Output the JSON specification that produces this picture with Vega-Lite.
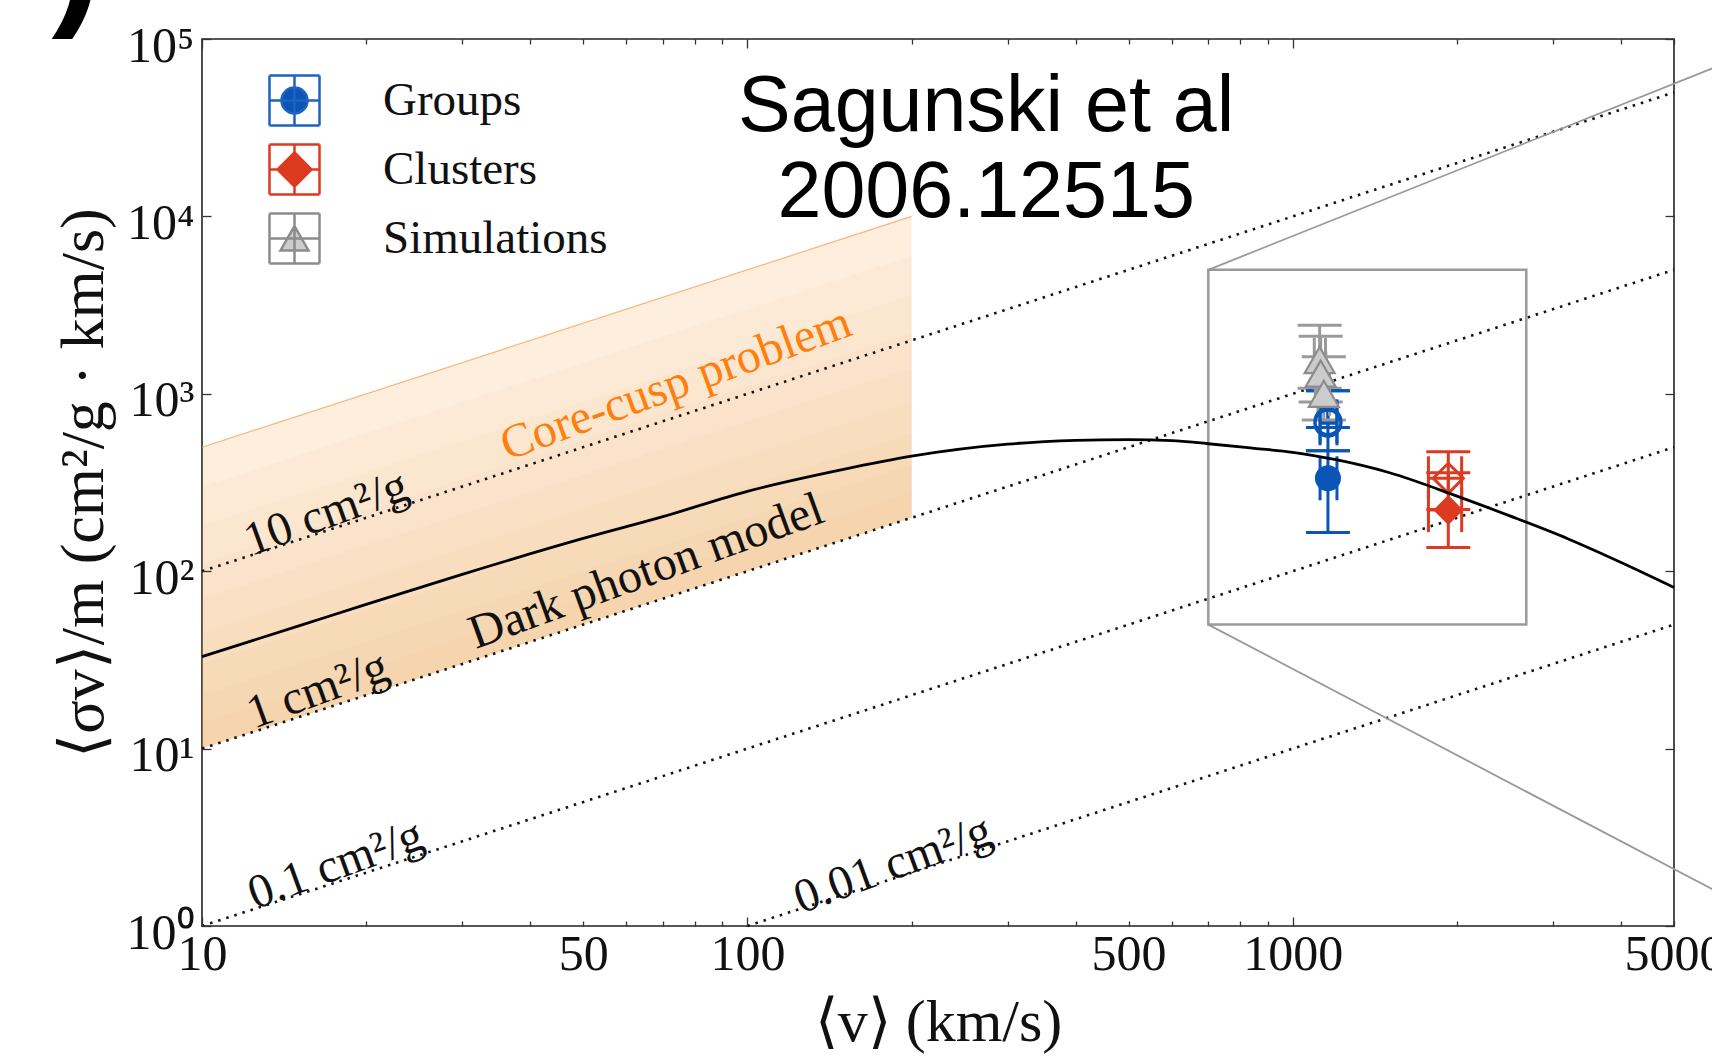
{
  "$schema": "https://vega.github.io/schema/vega-lite/v6.json",
  "width": 1472,
  "height": 887,
  "autosize": {"type": "none"},
  "padding": {"left": 202, "top": 39, "right": 38, "bottom": 133},
  "background": "white",
  "config": {
    "view": {"stroke": "#222222", "strokeWidth": 1.6},
    "legend": {
      "padding": 0,
      "labelFont": "Liberation Serif", "labelFontSize": 47, "labelColor": "#111111", "labelLimit": 0,
      "labelOffset": 62, "rowPadding": 8, "symbolSize": 2500,
      "symbolStrokeWidth": 2.5, "symbolOpacity": 1
    }
  },
  "datasets": {
    "band": [
      {"k": 50, "v": 10, "lo": 10, "hi": 500}, {"k": 50, "v": 200, "lo": 200, "hi": 10000},
      {"k": 30, "v": 10, "lo": 10, "hi": 300}, {"k": 30, "v": 200, "lo": 200, "hi": 6000},
      {"k": 18, "v": 10, "lo": 10, "hi": 180}, {"k": 18, "v": 200, "lo": 200, "hi": 3600},
      {"k": 11, "v": 10, "lo": 10, "hi": 110}, {"k": 11, "v": 200, "lo": 200, "hi": 2200},
      {"k": 7, "v": 10, "lo": 10, "hi": 70}, {"k": 7, "v": 200, "lo": 200, "hi": 1400},
      {"k": 4.5, "v": 10, "lo": 10, "hi": 45}, {"k": 4.5, "v": 200, "lo": 200, "hi": 900},
      {"k": 3, "v": 10, "lo": 10, "hi": 30}, {"k": 3, "v": 200, "lo": 200, "hi": 600},
      {"k": 2, "v": 10, "lo": 10, "hi": 20}, {"k": 2, "v": 200, "lo": 200, "hi": 400},
      {"k": 1.4, "v": 10, "lo": 10, "hi": 14}, {"k": 1.4, "v": 200, "lo": 200, "hi": 280}
    ],
    "iso": [
      {"k": "10", "v": 10, "y": 100}, {"k": "10", "v": 5000, "y": 50000},
      {"k": "1", "v": 10, "y": 10}, {"k": "1", "v": 5000, "y": 5000},
      {"k": "0.1", "v": 10, "y": 1}, {"k": "0.1", "v": 5000, "y": 500},
      {"k": "0.01", "v": 100, "y": 1}, {"k": "0.01", "v": 5000, "y": 50}
    ],
    "curve": [
      {"v": 10, "y": 33}, {"v": 15, "y": 49}, {"v": 20, "y": 65}, {"v": 30, "y": 96},
      {"v": 50, "y": 153}, {"v": 70, "y": 203}, {"v": 100, "y": 282}, {"v": 150, "y": 375},
      {"v": 200, "y": 445}, {"v": 300, "y": 520}, {"v": 400, "y": 546}, {"v": 500, "y": 552},
      {"v": 600, "y": 545}, {"v": 700, "y": 523}, {"v": 850, "y": 493}, {"v": 1000, "y": 468},
      {"v": 1200, "y": 425}, {"v": 1500, "y": 360}, {"v": 2000, "y": 265}, {"v": 2500, "y": 205},
      {"v": 3200, "y": 152}, {"v": 4000, "y": 112}, {"v": 5000, "y": 81}
    ],
    "pts": [
      {"set": "Groups", "m": "fc", "v": 1160, "vlo": 1122, "vhi": 1205, "y": 334, "ylo": 165, "yhi": 478},
      {"set": "Groups", "m": "oc", "v": 1160, "vlo": 1122, "vhi": 1205, "y": 682, "ylo": 478, "yhi": 1042},
      {"set": "Groups", "m": "oc", "v": 1160, "vlo": 1122, "vhi": 1205, "y": 700, "ylo": 646, "yhi": 1042},
      {"set": "Clusters", "m": "od", "v": 1928, "vlo": 1773, "vhi": 2040, "y": 334, "ylo": 223, "yhi": 472},
      {"set": "Clusters", "m": "fd", "v": 1928, "vlo": 1773, "vhi": 2040, "y": 221, "ylo": 136, "yhi": 359},
      {"set": "Simulations", "m": "tri", "v": 1120, "vlo": 1095, "vhi": 1148, "y": 1550, "ylo": 1073, "yhi": 2432},
      {"set": "Simulations", "m": "tri", "v": 1125, "vlo": 1100, "vhi": 1150, "y": 1300, "ylo": 900, "yhi": 2110},
      {"set": "Simulations", "m": "tri", "v": 1140, "vlo": 1112, "vhi": 1168, "y": 1000, "ylo": 711, "yhi": 1620}
    ],
    "legendset": [{"set": "Groups"}, {"set": "Clusters"}, {"set": "Simulations"}]
  },
  "layer": [
    {
      "data": {"name": "band"},
      "transform": [{"filter": "datum.k == 50"}],
      "mark": {"type": "area", "color": "#f39a3c", "opacity": 0.17},
      "encoding": {
        "x": {"field": "v", "type": "quantitative", "scale": {"type": "log", "domain": [10, 5000], "nice": false},
          "axis": {
            "orient": "bottom", "domain": false, "grid": false, "zindex": 1,
            "values": [10, 20, 30, 40, 50, 60, 70, 80, 90, 100, 200, 300, 400, 500, 600, 700, 800, 900, 1000, 2000, 3000, 4000, 5000],
            "labelExpr": "indexof([10, 50, 100, 500, 1000, 5000], datum.value) >= 0 ? '' + datum.value : ''",
            "labelFont": "Liberation Serif", "labelFontSize": 50, "labelColor": "#111111",
            "labelOverlap": false, "labelFlush": false, "labelBound": false, "labelBaseline": "top",
            "tickSize": {"condition": {"test": "indexof([10, 100, 1000], datum.value) >= 0", "value": -9}, "value": -5},
            "labelPadding": {"condition": {"test": "indexof([10, 100, 1000], datum.value) >= 0", "value": 12}, "value": 8},
            "tickColor": "#333333", "tickWidth": 1.3,
            "title": "⟨v⟩ (km/s)", "titleFont": "Liberation Serif", "titleFontSize": 60, "titleFontWeight": "normal",
            "titleColor": "#111111", "titleX": 736, "titleY": 96, "titleBaseline": "middle", "titleAlign": "center"
          }},
        "y": {"field": "hi", "type": "quantitative", "scale": {"type": "log", "domain": [1, 100000], "nice": false},
          "axis": {
            "orient": "left", "domain": false, "grid": false, "zindex": 1,
            "values": [1, 10, 100, 1000, 10000, 100000],
            "labelExpr": "'10' + ['⁰','¹','²','³','⁴','⁵'][round(log(datum.value) / LN10)]",
            "labelFont": "Liberation Serif", "labelFontSize": 50, "labelColor": "#111111",
            "labelOverlap": false, "labelFlush": false, "labelBound": false, "labelBaseline": "middle",
            "tickSize": -9, "labelPadding": 17, "labelOffset": 7,
            "tickColor": "#333333", "tickWidth": 1.3,
            "title": "⟨σv⟩/m (cm²/g · km/s)", "titleFont": "Liberation Serif", "titleFontSize": 62, "titleFontWeight": "normal",
            "titleColor": "#111111", "titleX": -119, "titleY": 443.5, "titleAngle": 270, "titleBaseline": "middle", "titleAlign": "center"
          }},
        "y2": {"field": "lo"}
      }
    },
    {
      "data": {"name": "band"},
      "transform": [{"filter": "datum.k != 50"}],
      "mark": {"type": "area", "color": "#f39a3c", "opacity": 0.045},
      "encoding": {
        "x": {"field": "v", "type": "quantitative", "scale": {"type": "log", "domain": [10, 5000], "nice": false},
          "axis": {
            "orient": "top", "domain": false, "grid": false, "zindex": 1, "labels": false, "title": null,
            "values": [10, 20, 30, 40, 50, 60, 70, 80, 90, 100, 200, 300, 400, 500, 600, 700, 800, 900, 1000, 2000, 3000, 4000, 5000],
            "tickSize": {"condition": {"test": "indexof([10, 100, 1000], datum.value) >= 0", "value": -9}, "value": -5},
            "tickColor": "#333333", "tickWidth": 1.3
          }},
        "y": {"field": "hi", "type": "quantitative", "scale": {"type": "log", "domain": [1, 100000], "nice": false},
          "axis": {
            "orient": "right", "domain": false, "grid": false, "zindex": 1, "labels": false, "title": null,
            "values": [1, 10, 100, 1000, 10000, 100000],
            "tickSize": -9, "tickColor": "#333333", "tickWidth": 1.3
          }},
        "y2": {"field": "lo"},
        "detail": {"field": "k", "type": "nominal"}
      }
    },
    {
      "data": {"name": "band"},
      "transform": [{"filter": "datum.k == 50"}],
      "mark": {"type": "line", "color": "#f5a55a", "strokeWidth": 1.2, "opacity": 0.8},
      "encoding": {
        "x": {"field": "v", "type": "quantitative", "scale": {"type": "log", "domain": [10, 5000], "nice": false}, "axis": null},
        "y": {"field": "hi", "type": "quantitative", "scale": {"type": "log", "domain": [1, 100000], "nice": false}, "axis": null}
      }
    },
    {
      "data": {"name": "iso"},
      "mark": {"type": "line", "color": "#111111", "strokeWidth": 2.6, "strokeDash": [2.5, 6]},
      "encoding": {
        "x": {"field": "v", "type": "quantitative", "scale": {"type": "log", "domain": [10, 5000], "nice": false}, "axis": null},
        "y": {"field": "y", "type": "quantitative", "scale": {"type": "log", "domain": [1, 100000], "nice": false}, "axis": null},
        "detail": {"field": "k", "type": "nominal"}
      }
    },
    {
      "data": {"values": [{"v1": 700, "v2": 2680, "y1": 50, "y2": 5000}]},
      "mark": {"type": "rect", "filled": false, "stroke": "#9a9a9a", "strokeWidth": 2.5},
      "encoding": {
        "x": {"field": "v1", "type": "quantitative", "scale": {"type": "log", "domain": [10, 5000], "nice": false}, "axis": null},
        "x2": {"field": "v2"},
        "y": {"field": "y1", "type": "quantitative", "scale": {"type": "log", "domain": [1, 100000], "nice": false}, "axis": null},
        "y2": {"field": "y2"}
      }
    },
    {
      "data": {"values": [
        {"g": "u", "v": 700, "y": 5000}, {"g": "u", "v": 6413, "y": 76000},
        {"g": "l", "v": 700, "y": 50}, {"g": "l", "v": 6413, "y": 1.4}
      ]},
      "mark": {"type": "line", "color": "#999999", "strokeWidth": 1.8, "clip": false},
      "encoding": {
        "x": {"field": "v", "type": "quantitative", "scale": {"type": "log", "domain": [10, 5000], "nice": false}, "axis": null},
        "y": {"field": "y", "type": "quantitative", "scale": {"type": "log", "domain": [1, 100000], "nice": false}, "axis": null},
        "detail": {"field": "g", "type": "nominal"}
      }
    },
    {
      "data": {"name": "pts"},
      "mark": {"type": "rule", "strokeWidth": 3, "opacity": 1},
      "encoding": {
        "x": {"field": "v", "type": "quantitative", "scale": {"type": "log", "domain": [10, 5000], "nice": false}, "axis": null},
        "y": {"field": "ylo", "type": "quantitative", "scale": {"type": "log", "domain": [1, 100000], "nice": false}, "axis": null},
        "y2": {"field": "yhi"},
        "color": {"field": "set", "type": "nominal", "scale": {"domain": ["Clusters", "Groups", "Simulations"], "range": ["#dc3a21", "#0a55b5", "#9a9a9a"]}, "legend": null}
      }
    },
    {
      "data": {"name": "pts"},
      "mark": {"type": "rule", "strokeWidth": 3, "opacity": 1},
      "encoding": {
        "x": {"field": "vlo", "type": "quantitative", "scale": {"type": "log", "domain": [10, 5000], "nice": false}, "axis": null},
        "x2": {"field": "vhi"},
        "y": {"field": "y", "type": "quantitative", "scale": {"type": "log", "domain": [1, 100000], "nice": false}, "axis": null},
        "color": {"field": "set", "type": "nominal", "scale": {"domain": ["Clusters", "Groups", "Simulations"], "range": ["#dc3a21", "#0a55b5", "#9a9a9a"]}, "legend": null}
      }
    },
    {
      "data": {"name": "pts"},
      "mark": {"type": "tick", "orient": "horizontal", "size": 44, "thickness": 3, "opacity": 1},
      "encoding": {
        "x": {"field": "v", "type": "quantitative", "scale": {"type": "log", "domain": [10, 5000], "nice": false}, "axis": null},
        "y": {"field": "ylo", "type": "quantitative", "scale": {"type": "log", "domain": [1, 100000], "nice": false}, "axis": null},
        "color": {"field": "set", "type": "nominal", "scale": {"domain": ["Clusters", "Groups", "Simulations"], "range": ["#dc3a21", "#0a55b5", "#9a9a9a"]}, "legend": null}
      }
    },
    {
      "data": {"name": "pts"},
      "mark": {"type": "tick", "orient": "horizontal", "size": 44, "thickness": 3, "opacity": 1},
      "encoding": {
        "x": {"field": "v", "type": "quantitative", "scale": {"type": "log", "domain": [10, 5000], "nice": false}, "axis": null},
        "y": {"field": "yhi", "type": "quantitative", "scale": {"type": "log", "domain": [1, 100000], "nice": false}, "axis": null},
        "color": {"field": "set", "type": "nominal", "scale": {"domain": ["Clusters", "Groups", "Simulations"], "range": ["#dc3a21", "#0a55b5", "#9a9a9a"]}, "legend": null}
      }
    },
    {
      "data": {"name": "pts"},
      "mark": {"type": "tick", "orient": "vertical", "size": 44, "thickness": 3, "opacity": 1},
      "encoding": {
        "x": {"field": "vlo", "type": "quantitative", "scale": {"type": "log", "domain": [10, 5000], "nice": false}, "axis": null},
        "y": {"field": "y", "type": "quantitative", "scale": {"type": "log", "domain": [1, 100000], "nice": false}, "axis": null},
        "color": {"field": "set", "type": "nominal", "scale": {"domain": ["Clusters", "Groups", "Simulations"], "range": ["#dc3a21", "#0a55b5", "#9a9a9a"]}, "legend": null}
      }
    },
    {
      "data": {"name": "pts"},
      "mark": {"type": "tick", "orient": "vertical", "size": 44, "thickness": 3, "opacity": 1},
      "encoding": {
        "x": {"field": "vhi", "type": "quantitative", "scale": {"type": "log", "domain": [10, 5000], "nice": false}, "axis": null},
        "y": {"field": "y", "type": "quantitative", "scale": {"type": "log", "domain": [1, 100000], "nice": false}, "axis": null},
        "color": {"field": "set", "type": "nominal", "scale": {"domain": ["Clusters", "Groups", "Simulations"], "range": ["#dc3a21", "#0a55b5", "#9a9a9a"]}, "legend": null}
      }
    },
    {
      "data": {"name": "pts"},
      "transform": [{"filter": "datum.m == 'fc'"}],
      "mark": {"type": "point", "shape": "circle", "filled": true, "size": 676, "fill": "#0a55b5", "opacity": 1},
      "encoding": {
        "x": {"field": "v", "type": "quantitative", "scale": {"type": "log", "domain": [10, 5000], "nice": false}, "axis": null},
        "y": {"field": "y", "type": "quantitative", "scale": {"type": "log", "domain": [1, 100000], "nice": false}, "axis": null}
      }
    },
    {
      "data": {"name": "pts"},
      "transform": [{"filter": "datum.m == 'oc'"}],
      "mark": {"type": "point", "shape": "circle", "filled": false, "size": 676, "stroke": "#0a55b5", "strokeWidth": 3, "opacity": 1},
      "encoding": {
        "x": {"field": "v", "type": "quantitative", "scale": {"type": "log", "domain": [10, 5000], "nice": false}, "axis": null},
        "y": {"field": "y", "type": "quantitative", "scale": {"type": "log", "domain": [1, 100000], "nice": false}, "axis": null}
      }
    },
    {
      "data": {"name": "pts"},
      "transform": [{"filter": "datum.m == 'od'"}],
      "mark": {"type": "point", "shape": "diamond", "filled": false, "size": 900, "stroke": "#dc3a21", "strokeWidth": 3, "opacity": 1},
      "encoding": {
        "x": {"field": "v", "type": "quantitative", "scale": {"type": "log", "domain": [10, 5000], "nice": false}, "axis": null},
        "y": {"field": "y", "type": "quantitative", "scale": {"type": "log", "domain": [1, 100000], "nice": false}, "axis": null}
      }
    },
    {
      "data": {"name": "pts"},
      "transform": [{"filter": "datum.m == 'fd'"}],
      "mark": {"type": "point", "shape": "diamond", "filled": true, "size": 900, "fill": "#dc3a21", "opacity": 1},
      "encoding": {
        "x": {"field": "v", "type": "quantitative", "scale": {"type": "log", "domain": [10, 5000], "nice": false}, "axis": null},
        "y": {"field": "y", "type": "quantitative", "scale": {"type": "log", "domain": [1, 100000], "nice": false}, "axis": null}
      }
    },
    {
      "data": {"name": "pts"},
      "transform": [{"filter": "datum.m == 'tri'"}],
      "mark": {"type": "point", "shape": "triangle-up", "filled": true, "size": 900, "fill": "#cccccc", "stroke": "#8c8c8c", "strokeWidth": 2.2, "opacity": 1},
      "encoding": {
        "x": {"field": "v", "type": "quantitative", "scale": {"type": "log", "domain": [10, 5000], "nice": false}, "axis": null},
        "y": {"field": "y", "type": "quantitative", "scale": {"type": "log", "domain": [1, 100000], "nice": false}, "axis": null}
      }
    },
    {
      "data": {"name": "curve"},
      "mark": {"type": "line", "color": "#000000", "strokeWidth": 2.8, "interpolate": "monotone"},
      "encoding": {
        "x": {"field": "v", "type": "quantitative", "scale": {"type": "log", "domain": [10, 5000], "nice": false}, "axis": null},
        "y": {"field": "y", "type": "quantitative", "scale": {"type": "log", "domain": [1, 100000], "nice": false}, "axis": null}
      }
    },
    {
      "data": {"values": [
        {"t": "10 cm²/g", "v": 16.9, "y": 210},
        {"t": "Dark photon model", "v": 65.3, "y": 99},
        {"t": "1 cm²/g", "v": 16.3, "y": 21.2},
        {"t": "0.1 cm²/g", "v": 17.6, "y": 2.2},
        {"t": "0.01 cm²/g", "v": 185, "y": 2.2}
      ]},
      "mark": {"type": "text", "font": "Liberation Serif", "fontSize": 48, "angle": 340, "align": "center", "baseline": "middle", "color": "#111111"},
      "encoding": {
        "x": {"field": "v", "type": "quantitative", "scale": {"type": "log", "domain": [10, 5000], "nice": false}, "axis": null},
        "y": {"field": "y", "type": "quantitative", "scale": {"type": "log", "domain": [1, 100000], "nice": false}, "axis": null},
        "text": {"field": "t"}
      }
    },
    {
      "data": {"values": [{"t": "Core-cusp problem", "v": 74, "y": 1130}]},
      "mark": {"type": "text", "font": "Liberation Serif", "fontSize": 48, "angle": 340, "align": "center", "baseline": "middle", "color": "#ff7f0e"},
      "encoding": {
        "x": {"field": "v", "type": "quantitative", "scale": {"type": "log", "domain": [10, 5000], "nice": false}, "axis": null},
        "y": {"field": "y", "type": "quantitative", "scale": {"type": "log", "domain": [1, 100000], "nice": false}, "axis": null},
        "text": {"field": "t"}
      }
    },
    {
      "data": {"values": [
        {"t": "Sagunski et al", "v": 274, "y": 41260},
        {"t": "2006.12515", "v": 274, "y": 13480}
      ]},
      "mark": {"type": "text", "font": "Liberation Sans", "fontSize": 79, "align": "center", "baseline": "middle", "color": "#000000"},
      "encoding": {
        "x": {"field": "v", "type": "quantitative", "scale": {"type": "log", "domain": [10, 5000], "nice": false}, "axis": null},
        "y": {"field": "y", "type": "quantitative", "scale": {"type": "log", "domain": [1, 100000], "nice": false}, "axis": null},
        "text": {"field": "t"}
      }
    },
    {
      "data": {"values": [{"t": ")", "v": 5.3, "y": 148600}]},
      "mark": {"type": "text", "font": "Liberation Sans", "fontSize": 150, "fontWeight": "bold", "align": "left", "baseline": "alphabetic", "color": "#000000", "clip": false},
      "encoding": {
        "x": {"field": "v", "type": "quantitative", "scale": {"type": "log", "domain": [10, 5000], "nice": false}, "axis": null},
        "y": {"field": "y", "type": "quantitative", "scale": {"type": "log", "domain": [1, 100000], "nice": false}, "axis": null},
        "text": {"field": "t"}
      }
    },
    {
      "data": {"name": "legendset"},
      "mark": {"type": "point", "filled": true, "clip": true, "opacity": 1},
      "encoding": {
        "x": {"datum": 1000000, "type": "quantitative", "scale": {"type": "log", "domain": [10, 5000], "nice": false}, "axis": null},
        "y": {"datum": 100, "type": "quantitative", "scale": {"type": "log", "domain": [1, 100000], "nice": false}, "axis": null},
        "shape": {"field": "set", "type": "nominal", "scale": {"domain": ["Groups", "Clusters", "Simulations"], "range": [
          "M-1,-1H1M-1,1H1M-1,-1V1M1,-1V1M-1,0H1M0,-1V1M0.52,0A0.52,0.52,0,1,1,-0.52,0A0.52,0.52,0,1,1,0.52,0Z",
          "M-1,-1H1M-1,1H1M-1,-1V1M1,-1V1M-1,0H1M0,-1V1M0,-0.68L0.68,0L0,0.68L-0.68,0Z",
          "M-1,-1H1M-1,1H1M-1,-1V1M1,-1V1M-1,0H1M0,-1V1M0,-0.5L0.56,0.48L-0.56,0.48Z"
        ]}, "legend": {"title": null, "orient": "none", "legendX": 66, "legendY": 35}},
        "fill": {"field": "set", "type": "nominal", "scale": {"domain": ["Groups", "Clusters", "Simulations"], "range": ["#0a55b5", "#dc3a21", "#cccccc"]}, "legend": {"title": null, "orient": "none", "legendX": 66, "legendY": 35}},
        "stroke": {"field": "set", "type": "nominal", "scale": {"domain": ["Groups", "Clusters", "Simulations"], "range": ["#1f62c0", "#dc3a21", "#8c8c8c"]}, "legend": {"title": null, "orient": "none", "legendX": 66, "legendY": 35}}
      }
    }
  ],
  "resolve": {"axis": {"x": "independent", "y": "independent"}}
}
